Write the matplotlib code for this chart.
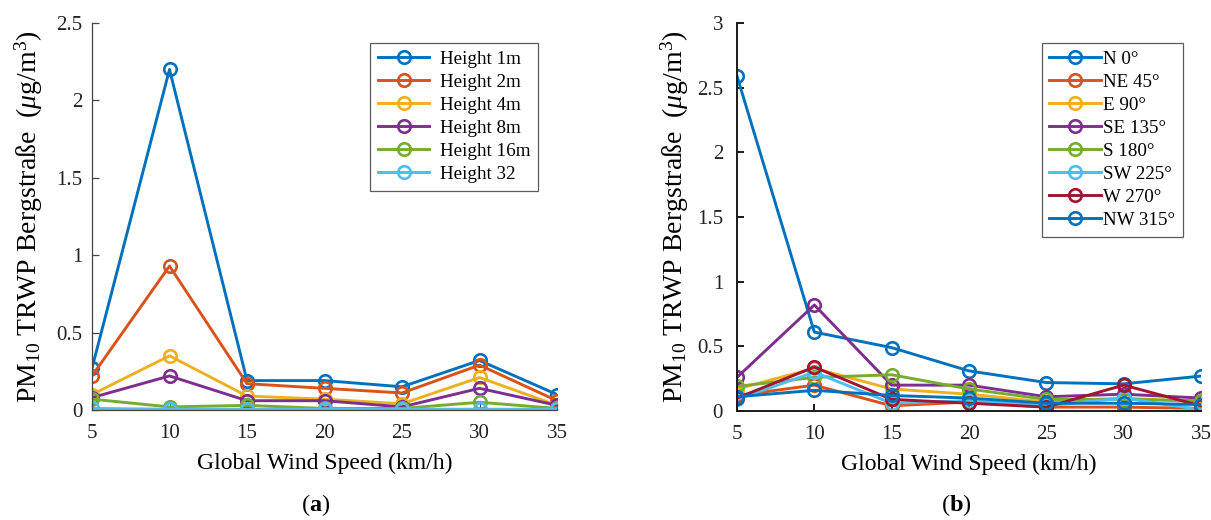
import matplotlib
matplotlib.use("Agg")
import matplotlib.pyplot as plt

plt.rcParams['font.family'] = ['Liberation Serif', 'DejaVu Serif']
plt.rcParams['mathtext.fontset'] = 'custom'
plt.rcParams['mathtext.rm'] = 'Liberation Serif'
plt.rcParams['mathtext.it'] = 'Liberation Serif:italic'
plt.rcParams['mathtext.bf'] = 'Liberation Serif:bold'

wind_speed = [5, 10, 15, 20, 25, 30, 35]

height_labels = ["Height 1m", "Height 2m", "Height 4m", "Height 8m", "Height 16m", "Height 32"]
h1 = [0.27, 2.20, 0.19, 0.19, 0.15, 0.32, 0.10]
h2 = [0.22, 0.93, 0.17, 0.14, 0.11, 0.29, 0.06]
h4 = [0.10, 0.35, 0.09, 0.07, 0.04, 0.21, 0.03]
h8 = [0.08, 0.22, 0.06, 0.06, 0.02, 0.14, 0.03]
h16 = [0.07, 0.02, 0.03, 0.01, 0.01, 0.05, 0.01]
h32 = [0.01, 0.005, 0.005, 0.005, 0.005, 0.005, 0.005]

dir_labels = ["N 0°", "NE 45°", "E 90°", "SE 135°", "S 180°", "SW 225°", "W 270°", "NW 315°"]
d_n = [2.59, 0.61, 0.49, 0.31, 0.22, 0.21, 0.27]
d_ne = [0.12, 0.20, 0.04, 0.07, 0.03, 0.03, 0.02]
d_e = [0.17, 0.33, 0.17, 0.13, 0.07, 0.10, 0.07]
d_se = [0.26, 0.82, 0.20, 0.20, 0.11, 0.13, 0.10]
d_s = [0.19, 0.26, 0.28, 0.17, 0.09, 0.09, 0.08]
d_sw = [0.09, 0.30, 0.06, 0.08, 0.04, 0.10, 0.01]
d_w = [0.10, 0.34, 0.09, 0.06, 0.03, 0.20, 0.04]
d_nw = [0.11, 0.16, 0.12, 0.10, 0.06, 0.06, 0.05]

mcolors = ['#0072BD', '#D95319', '#EDB120', '#7E2F8E', '#77AC30', '#4DBEEE', '#A2142F', '#0072BD']

W, H = 1211, 520
fig = plt.figure(figsize=(W / 100, H / 100), dpi=100)

def px_ax(x0, x1, ytop, ybot):
    return fig.add_axes([x0 / W, 1 - ybot / H, (x1 - x0) / W, (ybot - ytop) / H])

ax1 = px_ax(92, 557, 23, 410)
ax2 = px_ax(737, 1201, 23, 411)

fs_tick = 15
fs_lab = 17
fs_ylab = 20
fs_leg = 13.7
style = dict(marker='o', markersize=9, markerfacecolor='none', markeredgewidth=1.9, linewidth=2.1)

for ser, lab, c in zip([h1, h2, h4, h8, h16, h32], height_labels, mcolors):
    ax1.plot(wind_speed, ser, color=c, label=lab, **style)
for ser, lab, c in zip([d_n, d_ne, d_e, d_se, d_s, d_sw, d_w, d_nw], dir_labels, mcolors):
    ax2.plot(wind_speed, ser, color=c, label=lab, **style)

ylab = r'PM$_{10}$ TRWP Bergstraße  ($\mu$g/m$^3$)'
for ax, ymax, scol, slw, ypad in [(ax1, 2.5, '#444444', 0.9, 7), (ax2, 3.0, '#1a1a1a', 1.4, 10)]:
    ax.set_xlim(5, 35)
    ax.set_ylim(0, ymax)
    ax.set_xticks(wind_speed)
    yt = [i * 0.5 for i in range(int(ymax / 0.5) + 1)]
    ax.set_yticks(yt)
    ax.set_yticklabels(['%g' % v for v in yt])
    for s in ['top', 'right']:
        ax.spines[s].set_visible(False)
    for s in ['left', 'bottom']:
        ax.spines[s].set_color(scol)
        ax.spines[s].set_linewidth(slw)
    ax.tick_params(direction='in', length=5, width=slw, color=scol, labelsize=fs_tick)
    ax.tick_params(axis='x', pad=10)
    ax.tick_params(axis='y', pad=ypad)
    ax.set_xlabel('Global Wind Speed (km/h)', fontsize=fs_lab)
    ax.set_ylabel(ylab, fontsize=fs_ylab)
    ax.xaxis.set_label_coords(0.5, -0.11)
    for lbl in ax.get_xticklabels() + ax.get_yticklabels():
        lbl.set_color('#222222')

ax1.yaxis.set_label_coords(-0.101, 0.5)
ax2.yaxis.set_label_coords(-0.099, 0.5)

leg1 = ax1.legend(loc='upper right', bbox_to_anchor=(538 / W, 1 - 43 / H), bbox_transform=fig.transFigure,
                  fontsize=fs_leg, frameon=True, fancybox=False, edgecolor='#333333', handlelength=2.7,
                  handletextpad=0.55, labelspacing=0.3, borderpad=0.4, borderaxespad=0)
leg1.get_frame().set_linewidth(0.9)
leg2 = ax2.legend(loc='upper right', bbox_to_anchor=(1183 / W, 1 - 43 / H), bbox_transform=fig.transFigure,
                  fontsize=fs_leg, frameon=True, fancybox=False, edgecolor='#333333', handlelength=2.7,
                  handletextpad=0.15, labelspacing=0.3, borderpad=0.4, borderaxespad=0)
leg2.get_frame().set_linewidth(0.9)

fig.text(316 / W, 1 - 505 / H, r'($\mathbf{a}$)', ha='center', va='center', fontsize=17.5)
fig.text(956 / W, 1 - 505 / H, r'($\mathbf{b}$)', ha='center', va='center', fontsize=17.5)

fig.savefig('out.png', dpi=100)
